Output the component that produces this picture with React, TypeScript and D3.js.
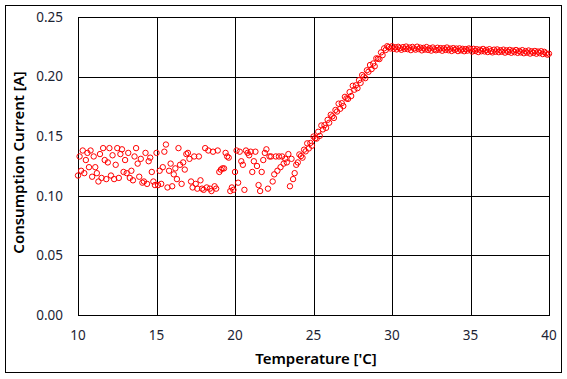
import React from "react";
import * as d3 from "d3";

// Temperature sweep sampled every 0.1 °C from 10 to 40
const tempStart = 10;
const tempStep = 0.1;

// Consumption current [A], one value per sample
const currents: number[] = [
  // 10.0 - 23.9 (noisy region)
  0.117, 0.133, 0.121, 0.138, 0.119, 0.130, 0.136, 0.124, 0.138, 0.116,
  0.133, 0.124, 0.119, 0.112, 0.135, 0.115, 0.140, 0.130, 0.114, 0.128,
  0.140, 0.117, 0.134, 0.114, 0.126, 0.140, 0.115, 0.135, 0.139, 0.120,
  0.130, 0.119, 0.136, 0.115, 0.121, 0.113, 0.133, 0.140, 0.127, 0.116,
  0.131, 0.111, 0.112, 0.136, 0.110, 0.129, 0.132, 0.120, 0.112, 0.109,
  0.136, 0.109, 0.121, 0.110, 0.124, 0.137, 0.143, 0.107, 0.121, 0.127,
  0.108, 0.118, 0.123, 0.114, 0.140, 0.126, 0.110, 0.128, 0.122, 0.135,
  0.136, 0.131, 0.112, 0.107, 0.133, 0.110, 0.106, 0.133, 0.113, 0.106,
  0.105, 0.140, 0.107, 0.138, 0.106, 0.104, 0.137, 0.108, 0.106, 0.138,
  0.120, 0.122, 0.123, 0.123, 0.136, 0.133, 0.132, 0.104, 0.107, 0.105,
  0.120, 0.138, 0.111, 0.137, 0.129, 0.126, 0.105, 0.138, 0.136, 0.134,
  0.137, 0.120, 0.129, 0.137, 0.125, 0.109, 0.104, 0.120, 0.130, 0.136,
  0.139, 0.106, 0.133, 0.133, 0.112, 0.118, 0.133, 0.121, 0.133, 0.124,
  0.133, 0.127, 0.131, 0.128, 0.135, 0.108, 0.131, 0.114, 0.119, 0.126,
  // 24.0 - 29.7 (ramp)
  0.1280, 0.1347, 0.1333, 0.1320, 0.1387, 0.1373, 0.1440, 0.1397, 0.1443, 0.1420,
  0.1497, 0.1483, 0.1480, 0.1537, 0.1503, 0.1590, 0.1557, 0.1593, 0.1570, 0.1637,
  0.1613, 0.1680, 0.1667, 0.1653, 0.1720, 0.1707, 0.1773, 0.1730, 0.1777, 0.1753,
  0.1830, 0.1817, 0.1813, 0.1870, 0.1837, 0.1923, 0.1890, 0.1927, 0.1903, 0.1970,
  0.1947, 0.2013, 0.2000, 0.1987, 0.2053, 0.2040, 0.2097, 0.2063, 0.2110, 0.2087,
  0.2153, 0.2150, 0.2147, 0.2203, 0.2180, 0.2237, 0.2223, 0.2255,
  // 29.8 - 40.0 (plateau)
  0.2248, 0.2236,
  0.2254, 0.2233, 0.2246, 0.2228, 0.2250, 0.2238, 0.2225, 0.2247, 0.2232, 0.2252,
  0.2230, 0.2244, 0.2222, 0.2249, 0.2236, 0.2226, 0.2251, 0.2231, 0.2243, 0.2220,
  0.2241, 0.2227, 0.2248, 0.2224, 0.2238, 0.2218, 0.2244, 0.2229, 0.2221, 0.2242,
  0.2226, 0.2239, 0.2217, 0.2238, 0.2224, 0.2244, 0.2221, 0.2235, 0.2215, 0.2239,
  0.2223, 0.2235, 0.2214, 0.2237, 0.2220, 0.2233, 0.2213, 0.2231, 0.2218, 0.2236,
  0.2228, 0.2210, 0.2233, 0.2215, 0.2230, 0.2206, 0.2226, 0.2213, 0.2232, 0.2211,
  0.2224, 0.2206, 0.2230, 0.2213, 0.2203, 0.2226, 0.2209, 0.2228, 0.2205, 0.2221,
  0.2209, 0.2226, 0.2201, 0.2220, 0.2207, 0.2224, 0.2200, 0.2218, 0.2205, 0.2223,
  0.2199, 0.2216, 0.2203, 0.2222, 0.2196, 0.2214, 0.2201, 0.2219, 0.2193, 0.2212,
  0.2199, 0.2215, 0.2192, 0.2210, 0.2197, 0.2213, 0.2189, 0.2208, 0.2195, 0.2184,
  0.2192,
];

const xTicks = [10, 15, 20, 25, 30, 35, 40];
const yTicks = [0, 0.05, 0.1, 0.15, 0.2, 0.25];
const xTitle = "Temperature ['C]";
const yTitle = "Consumption Current [A]";

const W = 567;
const H = 379;
const plot = { left: 78, right: 549, top: 17, bottom: 315 };
const font = "'Noto Sans', 'DejaVu Sans', sans-serif";

export default function App() {
  const x = d3.scaleLinear().domain([10, 40]).range([plot.left, plot.right]);
  const y = d3.scaleLinear().domain([0, 0.25]).range([plot.bottom, plot.top]);
  const px = (v: number) => Math.round(v) + 0.5;
  const points = currents.map((c, i) => ({ t: tempStart + i * tempStep, c }));

  return (
    <svg
      width={W}
      height={H}
      style={{ position: "fixed", left: 0, top: 0, background: "#fff" }}
    >
      <rect x={0} y={0} width={W} height={H} fill="#fff" />
      <rect x={5.5} y={5.5} width={556} height={367} fill="none" stroke="#000" strokeWidth={1} />
      {/* grid */}
      {xTicks.map((t) => (
        <line key={"gx" + t} x1={px(x(t))} x2={px(x(t))} y1={plot.top} y2={plot.bottom} stroke="#000" strokeWidth={1} />
      ))}
      {yTicks.map((t) => (
        <line key={"gy" + t} x1={plot.left} x2={plot.right} y1={px(y(t))} y2={px(y(t))} stroke="#000" strokeWidth={1} />
      ))}
      <rect
        x={px(plot.left)}
        y={px(plot.top)}
        width={Math.round(plot.right) - Math.round(plot.left)}
        height={Math.round(plot.bottom) - Math.round(plot.top)}
        fill="none"
        stroke="#000"
        strokeWidth={1}
      />
      {/* tick labels */}
      {yTicks.map((t) => (
        <text key={"ty" + t} x={63} y={y(t)} dy="0.35em" textAnchor="end" fontFamily={font} fontSize={13.5} fill="#1c2333">
          {t.toFixed(2)}
        </text>
      ))}
      {xTicks.map((t) => (
        <text key={"tx" + t} x={x(t)} y={335} dy="0.35em" textAnchor="middle" fontFamily={font} fontSize={13.5} fill="#1c2333">
          {t}
        </text>
      ))}
      {/* titles */}
      <text x={316} y={359} dy="0.35em" textAnchor="middle" fontFamily={font} fontSize={15} fontWeight={600} fill="#000">
        {xTitle}
      </text>
      <text
        transform={`translate(19,${162.5}) rotate(-90)`}
        dy="0.35em"
        textAnchor="middle"
        fontFamily={font}
        fontSize={15}
        fontWeight={600}
        fill="#000"
      >
        {yTitle}
      </text>
      {/* markers */}
      <g>
        {points.map((p, i) => (
          <circle key={i} cx={x(p.t)} cy={y(p.c)} r={2.7} fill="none" stroke="#ff0000" strokeWidth={1} />
        ))}
      </g>
    </svg>
  );
}
